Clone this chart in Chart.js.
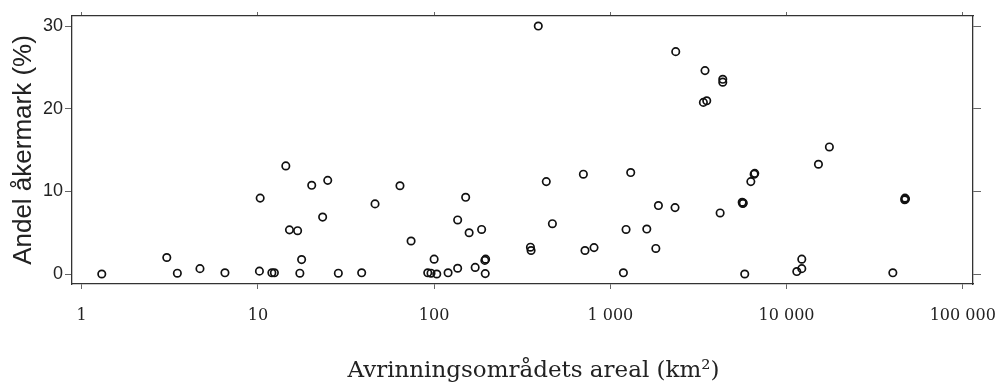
<!DOCTYPE html>
<html>
<head>
<meta charset="utf-8">
<script src="https://cdn.jsdelivr.net/npm/chart.js@4/dist/chart.umd.min.js"></script>
<style>
body{margin:0;background:#fff;}
#wrap{width:1003px;height:388px;}
</style>
</head>
<body>
<div id="wrap"><canvas id="scatter" width="1003" height="388"></canvas></div>
<script>

// avrinningsområdets areal (km2) och andel åkermark (%)
const areal = [
1.3, 3.04, 3.49, 4.69, 6.5, 10.3, 10.2, 12.0, 12.4, 14.4,
15.1, 16.8, 17.3, 17.7, 20.2, 23.3, 24.9, 28.6, 38.8, 46.2,
64, 74, 92, 96, 103.5, 100, 120, 136, 136, 151,
158, 171, 186, 194, 196, 195, 352, 355, 390, 433,
469, 703, 718, 808, 1186, 1228, 1305, 1610, 1812, 1874,
2350, 2329, 3445, 3373, 3524, 4345, 4345, 4198, 5600, 5680,
5640, 5790, 6270, 6545, 6600, 11430, 12200, 12200, 15170, 17500,
40100, 47000, 47300, 46800
];
const akermark = [
0, 2.0, 0.1, 0.65, 0.15, 9.2, 0.35, 0.15, 0.15, 13.1,
5.35, 5.25, 0.1, 1.75, 10.75, 6.9, 11.35, 0.1, 0.15, 8.5,
10.7, 4.0, 0.15, 0.1, 0.0, 1.8, 0.15, 0.7, 6.55, 9.3,
5.0, 0.8, 5.4, 1.65, 1.8, 0.05, 3.25, 2.85, 30.05, 11.2,
6.1, 12.1, 2.85, 3.2, 0.15, 5.4, 12.3, 5.45, 3.1, 8.3,
26.95, 8.05, 24.65, 20.8, 21.0, 23.6, 23.25, 7.4, 8.7, 8.6,
8.55, 0.0, 11.2, 12.1, 12.2, 0.3, 0.65, 1.8, 13.3, 15.4,
0.15, 9.2, 9.1, 9.0
];

const xTicks = [1, 10, 100, 1000, 10000, 100000];
const yTicks = [0, 10, 20, 30];

const xMin = 0.881, xMax = 114300;
const yMin = -1.21, yMax = 31.27;

let points = areal.map((a,i)=>({x:a, y:akermark[i]}));

function setTicks(list){
  return function(scale){
    scale.ticks = list.map(v=>({value:v}));
  };
}

// fixed box sizes so the plot area lands where the original has it
function fixSize(w,h){
  return function(s){
    if(w!=null) s.width = w;
    if(h!=null) s.height = h;
    s.paddingLeft = 0; s.paddingRight = 0;
    s.paddingTop = 0; s.paddingBottom = 0;
  };
}

function spaced(v){
  return String(v).replace(/\B(?=(\d{3})+(?!\d))/g, " ");
}

const axisColor = "#333";
const tickColor = "#666";

new Chart(document.getElementById("scatter"),{

type:"scatter",

data:{
datasets:[{
data:points,
pointStyle:"circle",
pointRadius:3.7,
pointBorderWidth:1.7,
borderColor:"#111",
backgroundColor:"rgba(255,255,255,0)"
}]
},

options:{
responsive:false,
animation:false,
layout:{padding:0},
plugins:{legend:{display:false},tooltip:{enabled:false}},
scales:{
x:{
type:"logarithmic",
position:"bottom",
min:xMin, max:xMax,
afterBuildTicks:setTicks(xTicks),
afterFit:fixSize(null,104),
grid:{drawOnChartArea:false, drawTicks:true, tickLength:5, tickColor:tickColor},
border:{display:true, color:axisColor, width:1.3},
ticks:{
autoSkip:false, maxRotation:0, padding:17,
color:"#222",
font:{family:"DejaVu Serif", size:16},
callback:v=>spaced(v)
},
title:{
display:true,
text:"   Avrinningsområdets areal (km²)",
color:"#222",
font:{family:"DejaVu Serif", size:23},
padding:{top:0,bottom:3}
}
},
x2:{
type:"logarithmic",
position:"top",
min:xMin, max:xMax,
afterBuildTicks:setTicks(xTicks),
afterFit:fixSize(null,16),
grid:{drawOnChartArea:false, drawTicks:true, tickLength:4, tickColor:tickColor},
border:{display:true, color:axisColor, width:1.3},
ticks:{display:false}
},
y:{
type:"linear",
position:"left",
min:yMin, max:yMax,
afterBuildTicks:setTicks(yTicks),
afterFit:fixSize(72,null),
grid:{drawOnChartArea:false, drawTicks:true, tickLength:7, tickColor:tickColor},
border:{display:true, color:axisColor, width:1.3},
ticks:{
padding:2,
color:"#222",
font:{family:"Liberation Sans", size:18}
},
title:{
display:true,
text:"Andel åkermark (%)",
color:"#222",
font:{family:"Liberation Sans", size:26},
padding:{top:8,bottom:0}
}
},
y2:{
type:"linear",
position:"right",
min:yMin, max:yMax,
afterBuildTicks:setTicks(yTicks),
afterFit:fixSize(30,null),
grid:{drawOnChartArea:false, drawTicks:true, tickLength:8, tickColor:tickColor},
border:{display:true, color:axisColor, width:1.3},
ticks:{display:false}
}
}
}

});

</script>
</body>
</html>
